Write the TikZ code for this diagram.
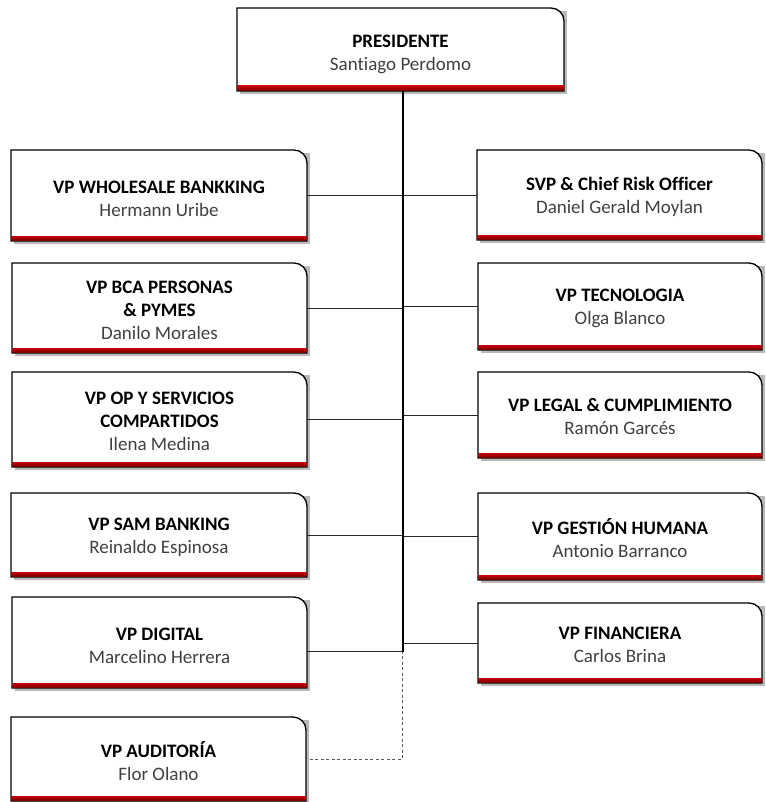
\documentclass[tikz,border=0pt]{standalone}
\usepackage{fontspec}
\setmainfont{Carlito}[Ligatures=NoCommon]
\definecolor{barTop}{RGB}{200,0,10}
\definecolor{barBot}{RGB}{120,0,0}
\definecolor{nameGray}{RGB}{64,64,64}
\definecolor{shadowGray}{RGB}{185,185,185}
\tikzset{
  boxframe/.style={draw=black, line width=1.3pt, fill=white},
  conn/.style={draw=black!85, line width=0.8pt},
  trunkline/.style={draw=black, line width=1.6pt},
  dotconn/.style={draw=black!65, line width=0.8pt, dash pattern=on 3pt off 2.5pt},
  boxtext/.style={align=center, font=\fontsize{19}{23}\selectfont, inner sep=0pt}
}
\newcommand\orgbox[7]{%
  \fill[shadowGray] ({#2+3},{-#3-3}) rectangle ({#4+3},{-#5-3});
  \node[minimum width={(#4-#2)*1pt}, minimum height={(#5-#3)*1pt}, inner sep=0pt, outer sep=0pt, anchor=north west] (#1) at ({#2},{-#3}) {};
  \draw[boxframe] (#1.south west) -- (#1.north west) -- ([xshift=-13pt]#1.north east) arc[start angle=90, end angle=0, radius=13pt] -- (#1.south east) -- cycle;
  \shade[top color=barTop, bottom color=barBot] ([xshift=0.6pt,yshift=0.6pt]#1.south west) rectangle ([xshift=-0.6pt,yshift=5pt]#1.south east);
  \node[boxtext] at ([yshift=-#7pt]#1.center) {#6};
}
\newcommand\ttl[1]{\textbf{#1}}
\newcommand\nm[1]{\textcolor{nameGray}{#1}}
\begin{document}
\begin{tikzpicture}[x=1pt,y=1pt]
\path[use as bounding box] (0,0) rectangle (765,-802);
\coordinate (trunk) at (403,-91);
\orgbox{pres}{237}{8}{564}{91}{\ttl{PRESIDENTE}\\\nm{Santiago Perdomo}}{5}
\orgbox{whole}{11}{150}{307}{241}{\ttl{VP WHOLESALE BANKKING}\\\nm{Hermann Uribe}}{3}
\orgbox{bca}{12}{263}{307}{353}{\ttl{VP BCA PERSONAS}\\\ttl{\& PYMES}\\\nm{Danilo Morales}}{2}
\orgbox{op}{12}{372}{307}{467}{\ttl{VP OP Y SERVICIOS}\\\ttl{COMPARTIDOS}\\\nm{Ilena Medina}}{2}
\orgbox{sam}{11}{493}{307}{577}{\ttl{VP SAM BANKING}\\\nm{Reinaldo Espinosa}}{2}
\orgbox{dig}{12}{597}{307}{688}{\ttl{VP DIGITAL}\\\nm{Marcelino Herrera}}{3}
\orgbox{aud}{11}{717}{306}{801}{\ttl{VP AUDITORÍA}\\\nm{Flor Olano}}{2}
\orgbox{svp}{477}{150}{762}{240}{\ttl{SVP \& Chief Risk Officer}\\\nm{Daniel Gerald Moylan}}{2}
\orgbox{tec}{478}{263}{762}{350}{\ttl{VP TECNOLOGIA}\\\nm{Olga Blanco}}{2}
\orgbox{leg}{478}{372}{762}{458}{\ttl{VP LEGAL \& CUMPLIMIENTO}\\\nm{Ramón Garcés}}{2}
\orgbox{ges}{478}{493}{762}{580}{\ttl{VP GESTIÓN HUMANA}\\\nm{Antonio Barranco}}{2}
\orgbox{fin}{478}{603}{762}{683}{\ttl{VP FINANCIERA}\\\nm{Carlos Brina}}{2}
\coordinate (digpt) at ([yshift=-9pt]dig.east);
% dashed line to auditoria
\draw[dotconn] ([xshift=-1pt]trunk |- sam.east) -- ([xshift=-1pt]trunk |- aud.east) -- (aud.east);
% horizontal connectors
\foreach \b in {whole,bca,op,sam}{\draw[conn] (\b.east) -- (trunk |- \b.east);}
\draw[conn] (digpt) -- (trunk |- digpt);
\foreach \b in {svp,tec,leg,ges,fin}{\draw[conn] (\b.west) -- (trunk |- \b.west);}
% trunk
\draw[trunkline] (pres.south -| trunk) -- (trunk |- digpt);
\end{tikzpicture}
\end{document}
